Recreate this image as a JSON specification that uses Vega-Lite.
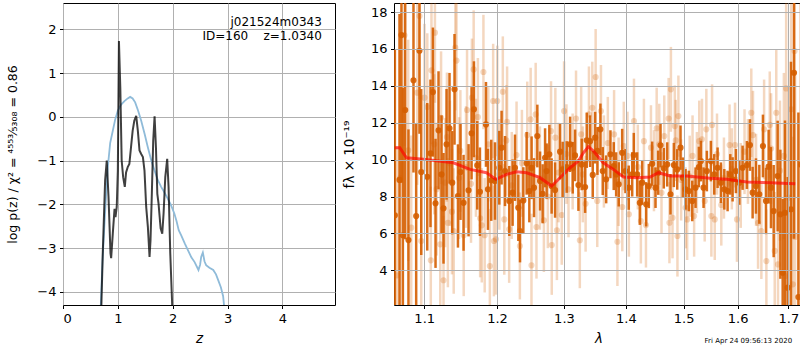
{
  "$schema": "https://vega.github.io/schema/vega-lite/v6.json",
  "background": "white",
  "padding": {"left": 6, "top": 2, "right": 0, "bottom": 0},
  "spacing": 5,
  "config": {
    "font": "DejaVu Sans",
    "view": {"stroke": "#000", "strokeWidth": 1},
    "axis": {"grid": true, "gridColor": "#b0b0b0", "gridWidth": 1, "domain": false, "ticks": true, "tickColor": "#000", "tickSize": 3.5, "tickWidth": 1, "labelFontSize": 13, "labelColor": "#000", "labelPadding": 3.5, "titleFontSize": 13.5, "titleFontWeight": "normal", "titleColor": "#000"},
    "axisX": {"titlePadding": 6}
  },
  "datasets": {
    "pzBlue": [
      {"z":0.67,"v":-5.0},{"z":0.695,"v":-4.1},{"z":0.72,"v":-3.3},{"z":0.744,"v":-2.74},{"z":0.78,"v":-1.9},{"z":0.817,"v":-1.15},{"z":0.86,"v":-0.6},{"z":0.908,"v":-0.32},{"z":0.95,"v":-0.07},{"z":1.0,"v":0.14},{"z":1.06,"v":0.28},{"z":1.12,"v":0.36},{"z":1.18,"v":0.42},{"z":1.225,"v":0.455},{"z":1.27,"v":0.42},{"z":1.316,"v":0.33},{"z":1.37,"v":0.14},{"z":1.426,"v":-0.09},{"z":1.49,"v":-0.4},{"z":1.548,"v":-0.7},{"z":1.61,"v":-1.0},{"z":1.67,"v":-1.23},{"z":1.73,"v":-1.45},{"z":1.79,"v":-1.6},{"z":1.85,"v":-1.73},{"z":1.91,"v":-1.87},{"z":1.97,"v":-2.02},{"z":2.03,"v":-2.21},{"z":2.07,"v":-2.38},{"z":2.11,"v":-2.59},{"z":2.16,"v":-2.72},{"z":2.22,"v":-2.89},{"z":2.28,"v":-3.05},{"z":2.34,"v":-3.21},{"z":2.4,"v":-3.32},{"z":2.47,"v":-3.5},{"z":2.5,"v":-3.38},{"z":2.52,"v":-3.2},{"z":2.55,"v":-3.1},{"z":2.58,"v":-3.3},{"z":2.61,"v":-3.39},{"z":2.67,"v":-3.45},{"z":2.74,"v":-3.5},{"z":2.79,"v":-3.6},{"z":2.83,"v":-3.73},{"z":2.88,"v":-3.9},{"z":2.92,"v":-4.1},{"z":2.96,"v":-4.6},{"z":2.98,"v":-5.0}
    ],
    "pzBlack": [
      {"z":0.69,"v":-5.0},{"z":0.70,"v":-4.3},{"z":0.725,"v":-3.12},{"z":0.768,"v":-1.45},{"z":0.798,"v":-1.0},{"z":0.83,"v":-1.83},{"z":0.866,"v":-3.12},{"z":0.878,"v":-3.23},{"z":0.908,"v":-2.67},{"z":0.94,"v":-2.1},{"z":0.957,"v":-2.29},{"z":0.98,"v":-2.06},{"z":1.0,"v":-1.23},{"z":1.02,"v":1.73},{"z":1.045,"v":0.67},{"z":1.07,"v":-1.0},{"z":1.097,"v":-1.38},{"z":1.127,"v":-1.6},{"z":1.15,"v":-1.27},{"z":1.18,"v":-1.15},{"z":1.21,"v":-1.08},{"z":1.24,"v":-0.7},{"z":1.27,"v":-0.32},{"z":1.30,"v":-0.09},{"z":1.335,"v":0.02},{"z":1.365,"v":-0.32},{"z":1.395,"v":-0.77},{"z":1.426,"v":-0.85},{"z":1.457,"v":-0.92},{"z":1.486,"v":-1.23},{"z":1.517,"v":-2.06},{"z":1.548,"v":-2.52},{"z":1.578,"v":-3.2},{"z":1.596,"v":-2.82},{"z":1.62,"v":-1.76},{"z":1.645,"v":-0.55},{"z":1.67,"v":0.01},{"z":1.695,"v":-0.7},{"z":1.72,"v":-1.76},{"z":1.742,"v":-1.98},{"z":1.78,"v":-2.55},{"z":1.81,"v":-2.67},{"z":1.834,"v":-2.21},{"z":1.865,"v":-1.38},{"z":1.90,"v":-0.96},{"z":1.925,"v":-1.6},{"z":1.956,"v":-3.12},{"z":1.99,"v":-4.26},{"z":2.0,"v":-5.0}
    ],
    "pzLabel": [
      {"z":4.72,"v":2.17,"t":"j021524m0343"},
      {"z":4.72,"v":1.85,"t":"ID=160\u00a0\u00a0\u00a0\u00a0z=1.0340"}
    ],
    "model": [
      {"l":1.0621,"f":10.65},{"l":1.0684,"f":10.65},{"l":1.0769,"f":10.1},{"l":1.099,"f":10.02},{"l":1.139,"f":9.83},{"l":1.162,"f":9.47},{"l":1.185,"f":9.29},{"l":1.1985,"f":8.93},{"l":1.2139,"f":9.2},{"l":1.2285,"f":9.34},{"l":1.2433,"f":9.29},{"l":1.2634,"f":9.02},{"l":1.2811,"f":8.57},{"l":1.294,"f":9.02},{"l":1.3096,"f":9.56},{"l":1.3227,"f":9.92},{"l":1.3306,"f":10.37},{"l":1.3386,"f":10.7},{"l":1.3466,"f":10.47},{"l":1.3627,"f":9.83},{"l":1.3792,"f":9.47},{"l":1.3958,"f":9.06},{"l":1.4182,"f":9.02},{"l":1.4411,"f":9.06},{"l":1.4554,"f":9.29},{"l":1.476,"f":9.11},{"l":1.5056,"f":9.11},{"l":1.5484,"f":8.99},{"l":1.5795,"f":8.93},{"l":1.6178,"f":8.79},{"l":1.6637,"f":8.75},{"l":1.714,"f":8.69}
    ],
    "dark": [
      {"l":1.0621,"f":6.98,"e":9},{"l":1.0680,"f":8.9,"e":9},{"l":1.0705,"f":16.75,"e":8},{"l":1.0723,"f":5.9,"e":8},{"l":1.0753,"f":12.69,"e":7},{"l":1.0795,"f":5.64,"e":6},{"l":1.0860,"f":14.3,"e":5},{"l":1.0895,"f":6.94,"e":5},{"l":1.0938,"f":15.9,"e":4.5},{"l":1.0961,"f":9.33,"e":4.5},
      {"l":1.1040,"f":9.07,"e":4},{"l":1.1083,"f":10.34,"e":4},{"l":1.1115,"f":13.66,"e":3.5},{"l":1.1150,"f":7.63,"e":3.5},{"l":1.1190,"f":11.59,"e":3.2},{"l":1.1230,"f":9.2,"e":3.2},{"l":1.1257,"f":7.36,"e":3},{"l":1.1298,"f":10.83,"e":3},{"l":1.1338,"f":11.7,"e":3},{"l":1.1375,"f":8.75,"e":2.8},
      {"l":1.1406,"f":13.81,"e":3},{"l":1.1453,"f":8.03,"e":2.8},{"l":1.1488,"f":9.33,"e":2.6},{"l":1.1530,"f":7.66,"e":2.6},{"l":1.1599,"f":8.34,"e":2.5},{"l":1.1641,"f":11.43,"e":2.5},{"l":1.1674,"f":12.73,"e":2.6},{"l":1.1720,"f":9.69,"e":2.4},{"l":1.1758,"f":8.26,"e":2.4},{"l":1.1843,"f":11.91,"e":2.3},
      {"l":1.1871,"f":8.39,"e":2.2},{"l":1.1918,"f":8.88,"e":2.2},{"l":1.1971,"f":8.84,"e":2.1},{"l":1.2033,"f":9.56,"e":2.0},{"l":1.2066,"f":10.65,"e":2.0},{"l":1.2116,"f":9.38,"e":1.9},{"l":1.2178,"f":7.76,"e":1.9},{"l":1.2226,"f":8.21,"e":1.8},{"l":1.2261,"f":9.56,"e":1.8},{"l":1.2310,"f":7.39,"e":1.8},
      {"l":1.2335,"f":6.13,"e":1.7},{"l":1.2384,"f":7.79,"e":1.8},{"l":1.2433,"f":9.8,"e":1.7},{"l":1.2473,"f":8.3,"e":1.7},{"l":1.2507,"f":9.56,"e":1.7},{"l":1.2543,"f":8.48,"e":1.6},{"l":1.2593,"f":11.28,"e":1.7},{"l":1.2634,"f":8.84,"e":1.6},{"l":1.2673,"f":8.15,"e":1.6},{"l":1.2710,"f":10.1,"e":1.6},
      {"l":1.2734,"f":9.38,"e":1.5},{"l":1.2775,"f":10.29,"e":1.6},{"l":1.2810,"f":8.57,"e":1.5},{"l":1.2863,"f":8.35,"e":1.5},{"l":1.2940,"f":10.43,"e":1.5},{"l":1.2980,"f":9.47,"e":1.5},{"l":1.3043,"f":9.6,"e":1.4},{"l":1.3096,"f":10.83,"e":1.5},{"l":1.3137,"f":9.56,"e":1.4},{"l":1.3174,"f":10.23,"e":1.4},
      {"l":1.3227,"f":8.62,"e":1.4},{"l":1.3279,"f":9.74,"e":1.4},{"l":1.3333,"f":8.51,"e":1.4},{"l":1.3359,"f":11.05,"e":1.5},{"l":1.3413,"f":11.0,"e":1.4},{"l":1.3455,"f":9.17,"e":1.3},{"l":1.3494,"f":11.19,"e":1.4},{"l":1.3531,"f":10.47,"e":1.3},{"l":1.3579,"f":11.64,"e":1.4},{"l":1.3617,"f":9.38,"e":1.3},
      {"l":1.3673,"f":8.93,"e":1.3},{"l":1.3743,"f":10.29,"e":1.3},{"l":1.3797,"f":9.65,"e":1.3},{"l":1.3837,"f":9.2,"e":1.2},{"l":1.3880,"f":8.66,"e":1.2},{"l":1.3937,"f":10.37,"e":1.3},{"l":1.3992,"f":9.38,"e":1.2},{"l":1.4047,"f":8.48,"e":1.2},{"l":1.4105,"f":9.2,"e":1.2},{"l":1.4132,"f":10.25,"e":1.2},
      {"l":1.4189,"f":9.2,"e":1.2},{"l":1.4234,"f":7.66,"e":1.2},{"l":1.4274,"f":8.75,"e":1.2},{"l":1.4343,"f":7.58,"e":1.2},{"l":1.4388,"f":8.57,"e":1.2},{"l":1.4446,"f":9.78,"e":1.2},{"l":1.4504,"f":8.48,"e":1.1},{"l":1.4550,"f":9.29,"e":1.2},{"l":1.4591,"f":10.78,"e":1.2},{"l":1.4648,"f":9.53,"e":1.1},
      {"l":1.4708,"f":9.74,"e":1.2},{"l":1.4766,"f":8.12,"e":1.1},{"l":1.4825,"f":9.71,"e":1.2},{"l":1.4885,"f":9.47,"e":1.1},{"l":1.4944,"f":10.65,"e":1.2},{"l":1.4985,"f":9.02,"e":1.1},{"l":1.5034,"f":8.39,"e":1.1},{"l":1.5093,"f":8.3,"e":1.1},{"l":1.5155,"f":7.76,"e":1.1},{"l":1.5215,"f":8.48,"e":1.1},
      {"l":1.5275,"f":9.6,"e":1.1},{"l":1.5312,"f":9.92,"e":1.1},{"l":1.5361,"f":8.48,"e":1.1},{"l":1.5422,"f":9.38,"e":1.1},{"l":1.5496,"f":9.92,"e":1.1},{"l":1.5559,"f":9.2,"e":1.1},{"l":1.5621,"f":9.56,"e":1.1},{"l":1.5683,"f":8.75,"e":1.1},{"l":1.5747,"f":8.39,"e":1.1},{"l":1.5809,"f":8.3,"e":1.1},
      {"l":1.5860,"f":9.2,"e":1.1},{"l":1.5904,"f":8.93,"e":1.2},{"l":1.5967,"f":9.38,"e":1.2},{"l":1.6032,"f":8.75,"e":1.2},{"l":1.6095,"f":9.56,"e":1.2},{"l":1.6178,"f":9.71,"e":1.3},{"l":1.6237,"f":10.79,"e":1.4},{"l":1.6289,"f":8.21,"e":1.4},{"l":1.6354,"f":8.57,"e":1.5},{"l":1.6420,"f":8.12,"e":1.6},
      {"l":1.6491,"f":10.74,"e":1.7},{"l":1.6551,"f":7.76,"e":1.8},{"l":1.6604,"f":9.62,"e":2.0},{"l":1.6650,"f":8.48,"e":2.2},{"l":1.6704,"f":7.21,"e":2.5},{"l":1.6784,"f":9.11,"e":3.0},{"l":1.6838,"f":7.04,"e":3.5},{"l":1.6885,"f":3.87,"e":4},{"l":1.6931,"f":7.12,"e":5},{"l":1.6986,"f":3.06,"e":6},
      {"l":1.7053,"f":7.31,"e":8},{"l":1.7115,"f":14.71,"e":9},{"l":1.7205,"f":2.55,"e":10},{"l":1.7259,"f":9.74,"e":10}
    ],
    "light": [
      {"l":1.0649,"f":3.73,"e":7},{"l":1.0688,"f":9.0,"e":7},{"l":1.0744,"f":16.74,"e":6},{"l":1.0792,"f":10.5,"e":6},{"l":1.0831,"f":6.31,"e":5},{"l":1.0909,"f":13.63,"e":5},{"l":1.0939,"f":17.78,"e":4.5},{"l":1.0961,"f":5.59,"e":4.5},{"l":1.1004,"f":13.36,"e":4},{"l":1.1041,"f":12.85,"e":4},
      {"l":1.1087,"f":4.54,"e":4},{"l":1.1096,"f":14.84,"e":4},{"l":1.1133,"f":10.83,"e":3.8},{"l":1.1142,"f":16.88,"e":3.8},{"l":1.1165,"f":8.4,"e":3.6},{"l":1.1213,"f":5.41,"e":3.6},{"l":1.1224,"f":12.27,"e":3.6},{"l":1.1257,"f":3.46,"e":3.5},{"l":1.1279,"f":8.75,"e":3.5},{"l":1.1303,"f":11.22,"e":3.5},
      {"l":1.1316,"f":6.58,"e":3.5},{"l":1.1344,"f":9.8,"e":3.4},{"l":1.1371,"f":7.18,"e":3.4},{"l":1.1395,"f":6.13,"e":3.4},{"l":1.1417,"f":16.07,"e":3.4},{"l":1.1433,"f":15.37,"e":3.4},{"l":1.1468,"f":9.0,"e":3.3},{"l":1.1486,"f":10.47,"e":3.3},{"l":1.1532,"f":5.9,"e":3.3},{"l":1.1564,"f":9.6,"e":3.3},
      {"l":1.1578,"f":12.69,"e":3.3},{"l":1.1633,"f":8.69,"e":3.2},{"l":1.1646,"f":13.36,"e":3.2},{"l":1.1670,"f":14.89,"e":3.2},{"l":1.1702,"f":10.1,"e":3.2},{"l":1.1729,"f":12.31,"e":3.2},{"l":1.1761,"f":6.82,"e":3.2},{"l":1.1784,"f":6.44,"e":3.1},{"l":1.1807,"f":14.75,"e":3.1},{"l":1.1825,"f":5.9,"e":3.1},
      {"l":1.1876,"f":10.83,"e":3.1},{"l":1.1898,"f":4.23,"e":3.1},{"l":1.1945,"f":13.18,"e":3.1},{"l":1.1956,"f":5.59,"e":3.0},{"l":1.1986,"f":5.68,"e":3.0},{"l":1.2004,"f":13.18,"e":3.0},{"l":1.2034,"f":9.2,"e":3.0},{"l":1.2084,"f":13.68,"e":3.0},{"l":1.2105,"f":6.76,"e":3.0},{"l":1.2135,"f":11.04,"e":3.0},
      {"l":1.2146,"f":12.05,"e":3.0},{"l":1.2176,"f":6.22,"e":2.9},{"l":1.2214,"f":8.6,"e":2.9},{"l":1.2284,"f":10.25,"e":2.9},{"l":1.2333,"f":5.32,"e":2.9},{"l":1.2363,"f":9.8,"e":2.9},{"l":1.2442,"f":11.33,"e":2.9},{"l":1.2493,"f":12.18,"e":2.8},{"l":1.2505,"f":4.27,"e":2.8},{"l":1.2568,"f":12.45,"e":2.8},
      {"l":1.2580,"f":6.35,"e":2.8},{"l":1.2632,"f":9.0,"e":2.8},{"l":1.2692,"f":6.71,"e":2.8},{"l":1.2752,"f":8.0,"e":2.8},{"l":1.2801,"f":11.55,"e":2.7},{"l":1.2812,"f":5.37,"e":2.7},{"l":1.2867,"f":11.19,"e":2.7},{"l":1.2891,"f":6.17,"e":2.7},{"l":1.2916,"f":9.3,"e":2.7},{"l":1.2966,"f":7.0,"e":2.7},
      {"l":1.3002,"f":12.63,"e":2.7},{"l":1.3039,"f":10.3,"e":2.7},{"l":1.3071,"f":8.39,"e":2.6},{"l":1.3136,"f":9.9,"e":2.6},{"l":1.3189,"f":12.23,"e":2.6},{"l":1.3249,"f":5.63,"e":2.6},{"l":1.3270,"f":11.37,"e":2.6},{"l":1.3297,"f":9.2,"e":2.6},{"l":1.3341,"f":7.61,"e":2.6},{"l":1.3394,"f":12.45,"e":2.6},
      {"l":1.3448,"f":12.81,"e":2.5},{"l":1.3502,"f":14.48,"e":2.6},{"l":1.3528,"f":7.76,"e":2.5},{"l":1.3588,"f":12.63,"e":2.5},{"l":1.3636,"f":9.9,"e":2.5},{"l":1.3700,"f":10.9,"e":2.5},{"l":1.3803,"f":11.37,"e":2.4},{"l":1.3858,"f":5.55,"e":2.4},{"l":1.3878,"f":8.8,"e":2.4},{"l":1.3939,"f":7.43,"e":2.4},
      {"l":1.3964,"f":10.74,"e":2.4},{"l":1.4026,"f":10.2,"e":2.4},{"l":1.4049,"f":7.04,"e":2.3},{"l":1.4135,"f":12.09,"e":2.3},{"l":1.4200,"f":9.6,"e":2.3},{"l":1.4252,"f":6.67,"e":2.3},{"l":1.4304,"f":11.0,"e":2.3},{"l":1.4339,"f":6.45,"e":2.3},{"l":1.4425,"f":10.65,"e":2.3},{"l":1.4477,"f":9.4,"e":2.2},
      {"l":1.4524,"f":11.7,"e":2.2},{"l":1.4569,"f":10.83,"e":2.2},{"l":1.4608,"f":8.2,"e":2.2},{"l":1.4656,"f":11.28,"e":2.2},{"l":1.4733,"f":12.23,"e":2.2},{"l":1.4747,"f":6.58,"e":2.2},{"l":1.4773,"f":13.81,"e":2.3},{"l":1.4802,"f":6.85,"e":2.2},{"l":1.4842,"f":11.82,"e":2.2},{"l":1.4859,"f":11.04,"e":2.2},
      {"l":1.4889,"f":5.86,"e":2.2},{"l":1.4906,"f":12.36,"e":2.2},{"l":1.4955,"f":8.9,"e":2.2},{"l":1.5035,"f":7.39,"e":2.2},{"l":1.5063,"f":6.76,"e":2.2},{"l":1.5109,"f":9.1,"e":2.2},{"l":1.5160,"f":10.2,"e":2.2},{"l":1.5189,"f":6.94,"e":2.2},{"l":1.5239,"f":9.3,"e":2.2},{"l":1.5282,"f":11.0,"e":2.2},
      {"l":1.5332,"f":11.1,"e":2.2},{"l":1.5382,"f":7.76,"e":2.2},{"l":1.5412,"f":11.64,"e":2.2},{"l":1.5505,"f":6.94,"e":2.2},{"l":1.5518,"f":11.88,"e":2.2},{"l":1.5568,"f":6.76,"e":2.2},{"l":1.5610,"f":10.3,"e":2.2},{"l":1.5690,"f":7.54,"e":2.2},{"l":1.5740,"f":9.0,"e":2.2},{"l":1.5846,"f":10.79,"e":2.2},
      {"l":1.5889,"f":9.5,"e":2.2},{"l":1.5950,"f":10.79,"e":2.3},{"l":1.5987,"f":6.76,"e":2.3},{"l":1.6059,"f":8.6,"e":2.3},{"l":1.6132,"f":10.43,"e":2.3},{"l":1.6198,"f":9.9,"e":2.3},{"l":1.6263,"f":12.54,"e":2.4},{"l":1.6296,"f":11.33,"e":2.4},{"l":1.6356,"f":8.9,"e":2.5},{"l":1.6395,"f":6.58,"e":2.5},
      {"l":1.6460,"f":6.13,"e":2.6},{"l":1.6514,"f":11.64,"e":2.7},{"l":1.6559,"f":4.5,"e":2.8},{"l":1.6626,"f":11.88,"e":2.9},{"l":1.6652,"f":10.6,"e":3.0},{"l":1.6725,"f":5.05,"e":3.2},{"l":1.6756,"f":12.54,"e":3.4},{"l":1.6791,"f":4.32,"e":3.5},{"l":1.6830,"f":9.4,"e":3.8},{"l":1.6909,"f":10.2,"e":4.5},
      {"l":1.6935,"f":3.69,"e":5},{"l":1.6955,"f":13.86,"e":5},{"l":1.7002,"f":7.94,"e":6},{"l":1.7056,"f":12.73,"e":7},{"l":1.7091,"f":3.24,"e":8},{"l":1.7126,"f":15.89,"e":8},{"l":1.7138,"f":5.81,"e":9}
    ],
    "stamp": [
      {"l":1.7076,"f":0.18,"t":"Fri Apr 24 09:56:13 2020"}
    ]
  },
  "hconcat": [
    {
      "width": 272,
      "height": 302,
      "encoding": {
        "x": {"field": "z", "type": "quantitative", "scale": {"domain": [0, 4.96], "nice": false, "zero": false}, "axis": {"values": [0, 1, 2, 3, 4], "format": "d", "title": "z", "titleFontStyle": "italic"}},
        "y": {"field": "v", "type": "quantitative", "scale": {"domain": [-4.3, 2.6], "nice": false, "zero": false}, "axis": {"values": [-4, -3, -2, -1, 0, 1, 2], "format": "d", "title": "log p(z) / χ² = ⁴⁵⁵³⁄₅₃₀₈ = 0.86", "titleFontSize": 12.5, "titlePadding": 17}}
      },
      "layer": [
        {"data": {"name": "pzBlue"}, "mark": {"type": "line", "color": "#8fbbd9", "strokeWidth": 1.8, "clip": true}},
        {"data": {"name": "pzBlack"}, "mark": {"type": "line", "color": "#000000", "opacity": 0.75, "strokeWidth": 2, "clip": true}},
        {"data": {"name": "pzLabel"}, "mark": {"type": "text", "align": "right", "baseline": "middle", "fontSize": 12, "color": "#000"}, "encoding": {"text": {"field": "t"}}}
      ]
    },
    {
      "width": 409,
      "height": 302,
      "encoding": {
        "x": {"field": "l", "type": "quantitative", "scale": {"type": "log", "domain": [1.061, 1.73], "nice": false, "zero": false}, "axis": {"values": [1.1, 1.2, 1.3, 1.4, 1.5, 1.6, 1.7], "format": ".1f", "title": "λ", "titleFontStyle": "italic", "zindex": 1}},
        "y": {"field": "f", "type": "quantitative", "scale": {"domain": [2.12, 18.49], "nice": false, "zero": false}, "axis": {"values": [4, 6, 8, 10, 12, 14, 16, 18], "format": "d", "title": "fλ × 10⁻¹⁹", "titlePadding": 14, "zindex": 1}}
      },
      "layer": [
        {"data": {"name": "light"}, "mark": {"type": "errorbar", "color": "#d55e00", "opacity": 0.25, "thickness": 2.5, "clip": true}, "encoding": {"yError": {"field": "e"}}},
        {"data": {"name": "light"}, "mark": {"type": "point", "filled": true, "size": 38, "color": "#d55e00", "opacity": 0.25, "clip": true}},
        {"data": {"name": "dark"}, "mark": {"type": "errorbar", "color": "#d55e00", "opacity": 0.9, "thickness": 2.5, "clip": true}, "encoding": {"yError": {"field": "e"}}},
        {"data": {"name": "dark"}, "mark": {"type": "point", "filled": true, "size": 38, "color": "#d55e00", "opacity": 0.9, "clip": true}},
        {"data": {"name": "model"}, "mark": {"type": "line", "color": "#ff0000", "opacity": 0.65, "strokeWidth": 3, "clip": true}},
        {"data": {"name": "stamp"}, "mark": {"type": "text", "align": "right", "baseline": "middle", "fontSize": 7, "color": "#000"}, "encoding": {"text": {"field": "t"}}}
      ]
    }
  ]
}
